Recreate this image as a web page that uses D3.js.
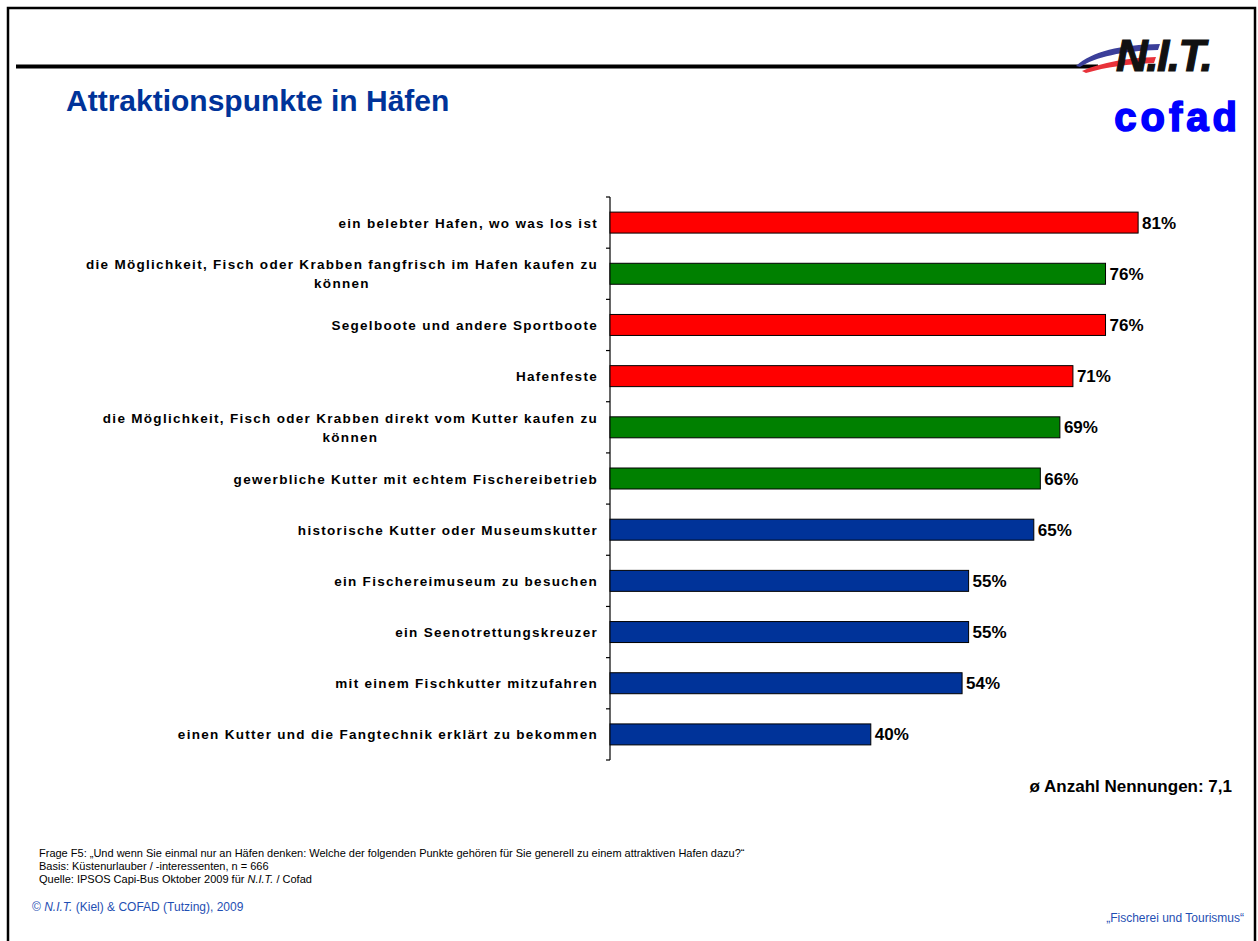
<!DOCTYPE html>
<html>
<head>
<meta charset="utf-8">
<script src="https://cdn.jsdelivr.net/npm/d3@7"></script>
<style>
  html, body { margin: 0; padding: 0; background: #fff; }
  svg { display: block; font-family: Arial, "Liberation Sans", sans-serif; }
</style>
</head>
<body>
<svg id="chart" width="1258" height="941"></svg>
<script>
// Survey answers: attractions in harbours (share of respondents, %)
const categories = [
  "ein belebter Hafen, wo was los ist",
  "die Möglichkeit, Fisch oder Krabben fangfrisch im Hafen kaufen zu können",
  "Segelboote und andere Sportboote",
  "Hafenfeste",
  "die Möglichkeit, Fisch oder Krabben direkt vom Kutter kaufen zu können",
  "gewerbliche Kutter mit echtem Fischereibetrieb",
  "historische Kutter oder Museumskutter",
  "ein Fischereimuseum zu besuchen",
  "ein Seenotrettungskreuzer",
  "mit einem Fischkutter mitzufahren",
  "einen Kutter und die Fangtechnik erklärt zu bekommen"
];
// Wrapped label lines for the category axis
const labelLines = [
  ["ein belebter Hafen, wo was los ist"],
  ["die Möglichkeit, Fisch oder Krabben fangfrisch im Hafen kaufen zu", "können"],
  ["Segelboote und andere Sportboote"],
  ["Hafenfeste"],
  ["die Möglichkeit, Fisch oder Krabben direkt vom Kutter kaufen zu", "können"],
  ["gewerbliche Kutter mit echtem Fischereibetrieb"],
  ["historische Kutter oder Museumskutter"],
  ["ein Fischereimuseum zu besuchen"],
  ["ein Seenotrettungskreuzer"],
  ["mit einem Fischkutter mitzufahren"],
  ["einen Kutter und die Fangtechnik erklärt zu bekommen"]
];
const values = [81, 76, 76, 71, 69, 66, 65, 55, 55, 54, 40];
const groups = ["hafenleben", "fisch", "hafenleben", "hafenleben", "fisch", "fisch",
                "kutter", "kutter", "kutter", "kutter", "kutter"];
const groupColors = { hafenleben: "#ff0000", fisch: "#008000", kutter: "#003399" };

const title = "Attraktionspunkte in Häfen";
const averageNote = "ø Anzahl Nennungen: 7,1";
const footnotes = [
  "Frage F5: „Und wenn Sie einmal nur an Häfen denken: Welche der folgenden Punkte gehören für Sie generell zu einem attraktiven Hafen dazu?“",
  "Basis: Küstenurlauber / -interessenten, n = 666"
];

const svg = d3.select("#chart");

// slide frame
svg.append("rect")
  .attr("x", 8).attr("y", 8).attr("width", 1247).attr("height", 945)
  .attr("fill", "none").attr("stroke", "#000").attr("stroke-width", 2.5);

// header rule
svg.append("line")
  .attr("x1", 16).attr("x2", 1098).attr("y1", 66.5).attr("y2", 66.5)
  .attr("stroke", "#000").attr("stroke-width", 4);

// N.I.T. logo: swoosh + lettering
const logo = svg.append("g");
logo.append("path")
  .attr("d", "M1076,66 C1092,51 1120,45 1160,44 L1158,50 C1122,51 1096,57 1080,67 Z")
  .attr("fill", "#3b3f9a");
logo.append("path")
  .attr("d", "M1082,71 C1102,62 1128,58 1156,57 L1154,63 C1128,64 1106,67 1086,73 Z")
  .attr("fill", "#e8323a");
logo.append("text")
  .attr("x", 1116).attr("y", 71)
  .attr("font-size", 44).attr("font-weight", "900").attr("font-style", "italic")
  .attr("letter-spacing", -1.5)
  .attr("fill", "#111").attr("stroke", "#111").attr("stroke-width", 1.2)
  .text("N.I.T.");

// cofad logo
svg.append("text")
  .attr("x", 1241).attr("y", 131).attr("text-anchor", "end")
  .attr("font-size", 40).attr("font-weight", "bold").attr("letter-spacing", 4)
  .attr("fill", "#0000ff").attr("stroke", "#0000ff").attr("stroke-width", 1.6)
  .text("cofad");

// title
svg.append("text")
  .attr("x", 66).attr("y", 111)
  .attr("font-size", 30).attr("font-weight", "bold")
  .attr("fill", "#003399")
  .text(title);

// scales
const x = d3.scaleLinear().domain([0, 100]).range([610, 1262]);
const y = d3.scaleBand().domain(categories).range([197, 760])
  .paddingInner(0.59).paddingOuter(0.295);

// axis line and tick marks at band boundaries
const boundaries = d3.range(categories.length + 1).map(i => 197 + i * y.step());
svg.append("line")
  .attr("x1", x(0)).attr("x2", x(0)).attr("y1", 197).attr("y2", 760)
  .attr("stroke", "#000").attr("stroke-width", 1.2);
svg.selectAll(".tick").data(boundaries).join("line")
  .attr("class", "tick")
  .attr("x1", x(0) - 4).attr("x2", x(0))
  .attr("y1", d => d).attr("y2", d => d)
  .attr("stroke", "#000").attr("stroke-width", 1.2);

// bars
svg.selectAll(".bar").data(categories).join("rect")
  .attr("class", "bar")
  .attr("x", x(0))
  .attr("y", d => y(d))
  .attr("width", (d, i) => x(values[i]) - x(0))
  .attr("height", y.bandwidth())
  .attr("fill", (d, i) => groupColors[groups[i]])
  .attr("stroke", "#000").attr("stroke-width", 1);

// value labels
svg.selectAll(".val").data(categories).join("text")
  .attr("class", "val")
  .attr("x", (d, i) => x(values[i]) + 4)
  .attr("y", d => y(d) + y.bandwidth() / 2 + 6)
  .attr("font-size", 17).attr("font-weight", "bold").attr("fill", "#000")
  .text((d, i) => values[i] + "%");

// category labels (multi-line labels are centred as a block, right-aligned to the axis)
const labelRight = 598;
const lineH = 19;
categories.forEach((c, i) => {
  const lines = labelLines[i];
  const cy = y(c) + y.bandwidth() / 2;
  const g = svg.append("g");
  const texts = lines.map((ln, k) => g.append("text")
    .attr("y", cy + 5 + (k - (lines.length - 1) / 2) * lineH)
    .attr("font-size", 13.5).attr("font-weight", "bold").attr("letter-spacing", 1.3)
    .attr("fill", "#000")
    .text(ln));
  const widths = texts.map(t => t.node().getComputedTextLength());
  const maxW = d3.max(widths);
  const centre = labelRight - maxW / 2;
  texts.forEach((t, k) => t.attr("x", centre - widths[k] / 2));
});

// average number of mentions
svg.append("text")
  .attr("x", 1232).attr("y", 792).attr("text-anchor", "end")
  .attr("font-size", 17).attr("font-weight", "bold").attr("fill", "#000")
  .text(averageNote);

// footnotes
const foot = svg.append("g").attr("font-size", 11).attr("fill", "#000");
footnotes.forEach((t, i) => {
  foot.append("text").attr("x", 39).attr("y", 857 + i * 13).text(t);
});
const src = foot.append("text").attr("x", 39).attr("y", 883);
src.append("tspan").text("Quelle: IPSOS Capi-Bus Oktober 2009 für ");
src.append("tspan").attr("font-style", "italic").text("N.I.T.");
src.append("tspan").text(" / Cofad");

// copyright line and series name
const copy = svg.append("text").attr("x", 32).attr("y", 911)
  .attr("font-size", 12).attr("fill", "#1f4fb3");
copy.append("tspan").text("© ");
copy.append("tspan").attr("font-style", "italic").text("N.I.T.");
copy.append("tspan").text(" (Kiel) & COFAD (Tutzing), 2009");

svg.append("text")
  .attr("x", 1244).attr("y", 922).attr("text-anchor", "end")
  .attr("font-size", 12).attr("fill", "#1f4fb3")
  .text("„Fischerei und Tourismus“");
</script>
</body>
</html>
